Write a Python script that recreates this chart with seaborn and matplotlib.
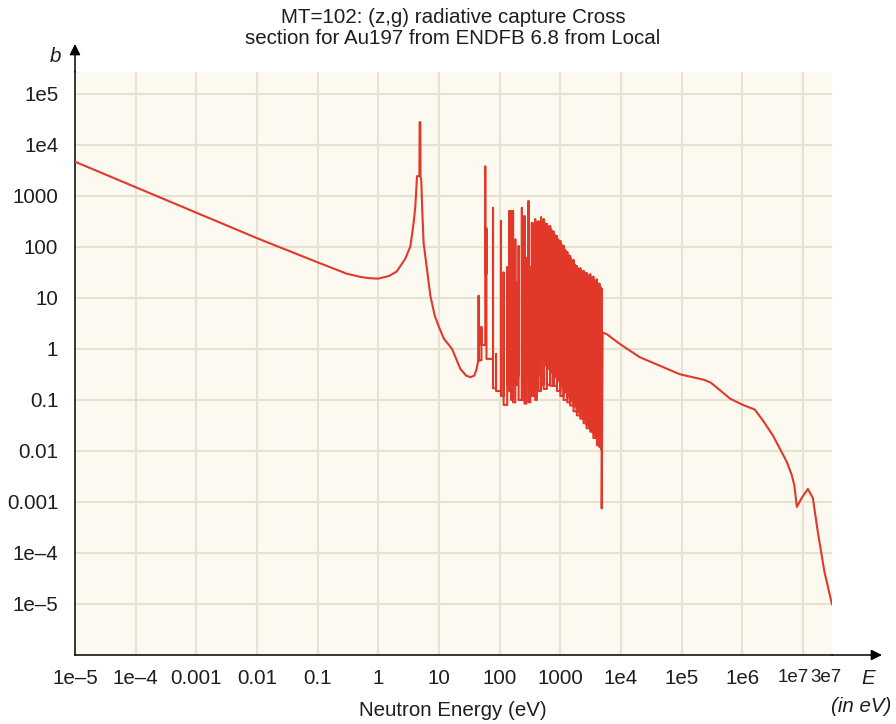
import numpy as np
import pandas as pd
import matplotlib
matplotlib.use("Agg")
import matplotlib.pyplot as plt
import seaborn as sns

# ---- data (energy in eV, cross section in barns) ----
# smooth part below the resolved resonances (1/v region + 4.9 eV resonance)
low_energy = [1e-5, 1e-4, 1e-3, 1e-2, 0.1, 0.3, 0.5, 0.7, 1.0, 1.5, 2.0, 2.3,
              2.8, 3.37, 3.82, 4.07, 4.34, 4.6, 4.75, 4.79, 4.92, 4.95, 5.1,
              5.3, 5.57, 6.35, 7.2, 8.5, 9.85, 12, 16.4, 22.4, 28, 33, 38,
              41, 43, 44.5]
low_xs = [4700, 1490, 470, 149, 50, 30, 26, 24.5, 24, 27, 33, 42,
          60, 103, 300, 630, 2450, 2450, 2500, 28000, 28000, 2450, 2000,
          500, 121, 36, 11, 4.5, 2.8, 1.6, 1.0, 0.41, 0.3, 0.28, 0.3,
          0.38, 0.5, 0.6]

# resolved resonances: energy, peak value, trough just after the peak
res_energy = [44.9, 50, 57.8, 60.5, 77.6, 87, 105, 116, 133, 144, 154, 166,
              181, 195, 205, 232, 256, 275, 298, 320, 339, 362, 385, 410,
              438, 480, 530, 600, 680, 770, 880, 1000, 1130, 1300, 1450,
              1650, 1870, 2130, 2410, 2700, 3110, 3500, 4010, 4400, 4660, 4800]
res_peak = [11, 2.7, 3780, 230, 585, 0.8, 322, 31.5, 40, 507, 507, 507,
            140, 20, 104, 585, 403, 60, 794, 40, 298, 120, 347, 200,
            257, 380, 350, 280, 255, 200, 163, 130, 105, 80, 66,
            55, 42, 38, 34, 31, 29, 26, 23, 19, 16, 15]
res_trough = [0.6, 1.2, 30, 0.64, 0.17, 0.15, 0.12, 0.08, 0.2, 0.15, 0.1, 0.09,
              0.2, 0.3, 0.1, 0.1, 0.085, 0.3, 0.09, 0.25, 0.12, 0.2, 0.1, 0.3,
              0.15, 0.2, 0.165, 0.2, 0.19, 0.19, 0.15, 0.12, 0.1, 0.09, 0.078,
              0.06, 0.05, 0.043, 0.035, 0.028, 0.024, 0.018, 0.013, 0.012, 0.011, 0.00075]

# unresolved, densely packed resonance band (envelopes)
dense_energy = [330, 420, 530, 680, 880, 1130, 1450, 1870, 2410, 3110, 4010, 4750]
dense_top = [300, 340, 330, 250, 160, 105, 66, 42, 34, 28, 22, 16]
dense_bottom = [3, 1.0, 0.5, 0.35, 0.25, 0.15, 0.1, 0.06, 0.04, 0.025, 0.016, 0.012]

# smooth part above the resonance region
high_energy = [4970, 5800, 9600, 2.04e4, 5.7e4, 9.3e4, 2.3e5, 3.0e5, 6.3e5,
               1.0e6, 1.6e6, 2.2e6, 3.2e6, 5.4e6, 6.5e6, 7.2e6, 7.9e6, 9.5e6,
               1.2e7, 1.45e7, 1.75e7, 2.25e7, 3.0e7]
high_xs = [2.1, 1.96, 1.25, 0.69, 0.41, 0.32, 0.25, 0.22, 0.106,
           0.081, 0.065, 0.039, 0.020, 0.0061, 0.0034, 0.0021, 8.0e-4, 1.2e-3,
           1.8e-3, 1.2e-3, 2.6e-4, 4.3e-5, 9.8e-6]

x_ticks = [1e-5, 1e-4, 1e-3, 1e-2, 0.1, 1, 10, 100, 1000, 1e4, 1e5, 1e6, 1e7, 3e7]
x_labels = ["1e\u20135", "1e\u20134", "0.001", "0.01", "0.1", "1", "10", "100",
            "1000", "1e4", "1e5", "1e6", "1e7", "3e7"]
y_ticks = [1e-5, 1e-4, 1e-3, 1e-2, 0.1, 1, 10, 100, 1000, 1e4, 1e5]
y_labels = ["1e\u20135", "1e\u20134", "0.001", "0.01", "0.1", "1", "10", "100",
            "1000", "1e4", "1e5"]

# ---- build one continuous curve ----
curve_e = list(low_energy)
curve_s = list(low_xs)
prev = low_xs[-1]
for e, p, t in zip(res_energy, res_peak, res_trough):
    curve_e += [e, e, e]
    curve_s += [prev, p, t]
    prev = t
curve_e += high_energy
curve_s += high_xs
df = pd.DataFrame({"E": curve_e, "xs": curve_s})

# ---- style ----
sns.set_style("white")
plt.rcParams["font.family"] = ["Liberation Sans", "DejaVu Sans"]
RED = "#e2382a"
GRID = "#e6e2cd"
BG = "#fcf9f1"
TXT = "#1e1e1e"
FS = 14.8

fig = plt.figure(figsize=(8.96, 7.24), dpi=100)
ax = fig.add_axes([75 / 896, 69 / 724, 757 / 896, 583 / 724])
ax.set_facecolor(BG)
ax.set_xscale("log")
ax.set_yscale("log")
ax.set_xlim(1e-5, 3e7)
ax.set_ylim(1e-6, 2.7e5)

# grid lines at decades
for xv in x_ticks[1:-1]:
    ax.axvline(xv, color=GRID, lw=1.5, zorder=0)
for yv in y_ticks:
    ax.axhline(yv, color=GRID, lw=1.5, zorder=0)

ax.fill_between(dense_energy, dense_bottom, dense_top, color=RED, lw=0, zorder=2)
sns.lineplot(data=df, x="E", y="xs", sort=False, estimator=None,
             color=RED, lw=1.5, ax=ax, zorder=3)

# last two x labels are crowded: drawn by hand, nudged left like the reference
ax.set_xticks(x_ticks)
ax.set_xticklabels(x_labels[:-2] + ["", ""])
for xv, lab, dx in zip(x_ticks[-2:], x_labels[-2:], [-10, -6]):
    ax.annotate(lab, xy=(xv, 0), xycoords=("data", "axes fraction"),
                xytext=(dx * 0.72, -16.2), textcoords="offset points",
                ha="center", va="center", fontsize=13.5, color=TXT)

ax.set_yticks([1e-6] + y_ticks + [2.7e5])
ax.set_yticklabels([""] + y_labels + [""])
ax.minorticks_off()
ax.tick_params(axis="both", direction="out", length=5, width=1.1,
               color="black", labelsize=FS, labelcolor=TXT)
ax.tick_params(axis="y", pad=7)
ax.tick_params(axis="x", pad=5)
ax.set_xlabel("")
ax.set_ylabel("")

for side in ["top", "right"]:
    ax.spines[side].set_visible(False)
for side in ["left", "bottom"]:
    ax.spines[side].set_color("black")
    ax.spines[side].set_linewidth(1.1)

# axis arrows continuing the spines
ax.annotate("", xy=(0, 1 + 28 / 583), xytext=(0, 1), xycoords="axes fraction",
            arrowprops=dict(arrowstyle="-|>", color="black", lw=1.1,
                            mutation_scale=16, shrinkA=0, shrinkB=0))
ax.annotate("", xy=(1 + 50 / 757, 0), xytext=(1, 0), xycoords="axes fraction",
            arrowprops=dict(arrowstyle="-|>", color="black", lw=1.1,
                            mutation_scale=16, shrinkA=0, shrinkB=0))

fig.text(453 / 896, 1 - 8 / 724,
         "MT=102: (z,g) radiative capture Cross\nsection for Au197 from ENDFB 6.8 from Local",
         ha="center", va="top", fontsize=FS, color=TXT, linespacing=1.15)
fig.text(55 / 896, 1 - 57 / 724, "b", ha="center", va="center",
         fontsize=FS, style="italic", color=TXT)
fig.text(868 / 896, 1 - 678 / 724, "E", ha="center", va="center",
         fontsize=FS, style="italic", color=TXT)
fig.text(891 / 896, 1 - 706 / 724, "(in eV)", ha="right", va="center",
         fontsize=FS, style="italic", color=TXT)
fig.text(453 / 896, 1 - 711 / 724, "Neutron Energy (eV)", ha="center",
         va="center", fontsize=FS, color=TXT)

plt.savefig("out.png", dpi=100)
plt.close()
